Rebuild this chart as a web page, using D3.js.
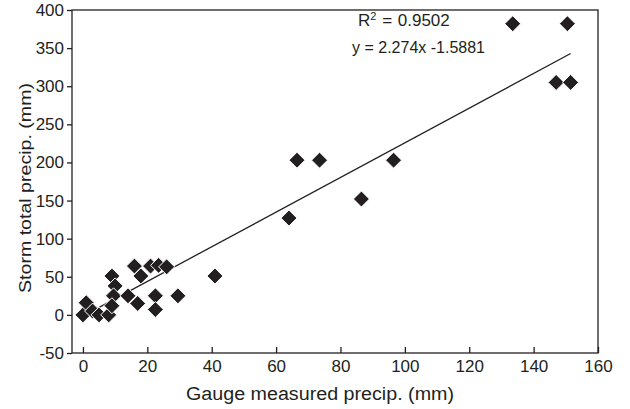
<!DOCTYPE html>
<html>
<head>
<meta charset="utf-8">
<script src="https://cdn.jsdelivr.net/npm/d3@7"></script>
<style>
  body { margin: 0; background: #fff; }
  text { font-family: "Liberation Sans", Arial, sans-serif; fill: #231f20; }
</style>
</head>
<body>
<svg id="chart" width="630" height="409"></svg>
<script>

// gauge measured precip (mm) vs storm total precip (mm)
var gaugePrecip = [0, 1, 3, 5, 8, 9, 10, 9.5, 9, 14, 17, 16, 18, 21, 23.5, 26, 22.5, 22.5, 29.5, 41,
                   64, 66.5, 73.5, 86.5, 96.5, 133.5, 150.5, 147, 151.5];
var stormPrecip = [0, 16, 5, 0, 0, 51, 38, 25, 12, 25, 15, 64, 51, 64, 65, 63, 25, 7, 25, 51,
                   127, 203, 203, 152, 203, 382, 382, 305, 305];
var xTicks = [0, 20, 40, 60, 80, 100, 120, 140, 160];
var yTicks = [-50, 0, 50, 100, 150, 200, 250, 300, 350, 400];
var slope = 2.274;
var intercept = -1.5881;
var rSquared = "0.9502";
var equation = "y = 2.274x -1.5881";

var svg = d3.select("#chart");
var plotLeft = 72, plotRight = 598, plotTop = 10, plotBottom = 353;

var x = d3.scaleLinear().domain([-3.4, 160]).range([plotLeft, plotRight]);
var y = d3.scaleLinear().domain([-50, 400]).range([plotBottom, plotTop]);

// frame
svg.append("rect")
  .attr("x", plotLeft)
  .attr("y", plotTop)
  .attr("width", plotRight - plotLeft)
  .attr("height", plotBottom - plotTop)
  .style("fill", "none")
  .style("stroke", "#231f20")
  .style("stroke-width", 1.3);

// y axis, ticks outward
var yAxis = svg.append("g")
  .attr("transform", `translate(${plotLeft},0)`)
  .call(d3.axisLeft(y).tickValues(yTicks).tickSize(5).tickPadding(3).tickFormat(d => String(d)));
yAxis.select(".domain").remove();
yAxis.selectAll("line").style("stroke", "#231f20").style("stroke-width", 1.3);
yAxis.selectAll("text").style("font-size", "17px").style("font-family", "Liberation Sans, Arial, sans-serif").style("fill", "#231f20");

// x axis, ticks inward
var xAxis = svg.append("g")
  .attr("transform", `translate(0,${plotBottom})`)
  .call(d3.axisBottom(x).tickValues(xTicks).tickSize(0).tickPadding(7).tickFormat(d => String(d)));
xAxis.select(".domain").remove();
xAxis.selectAll(".tick line").attr("y2", -6).style("stroke", "#231f20").style("stroke-width", 1.3);
xAxis.selectAll("text").style("font-size", "17px").style("font-family", "Liberation Sans, Arial, sans-serif").style("fill", "#231f20");

// trend line over the data range
var xMin = d3.min(gaugePrecip), xMax = d3.max(gaugePrecip);
svg.append("line")
  .attr("x1", x(xMin))
  .attr("y1", y(slope * xMin + intercept))
  .attr("x2", x(xMax))
  .attr("y2", y(slope * xMax + intercept))
  .style("stroke", "#231f20")
  .style("stroke-width", 1.3);

// diamonds
var r = 8;
svg.append("g")
  .selectAll("path")
  .data(d3.range(gaugePrecip.length))
  .enter()
  .append("path")
  .attr("d", i => {
    var cx = x(gaugePrecip[i]), cy = y(stormPrecip[i]);
    return `M${cx},${cy - r}L${cx + r},${cy}L${cx},${cy + r}L${cx - r},${cy}Z`;
  })
  .style("fill", "#231f20")
  .style("stroke", "#fff")
  .style("stroke-width", 1);

// regression annotation
var r2 = svg.append("text")
  .attr("x", 358)
  .attr("y", 26)
  .style("font-size", "17px")
  .style("word-spacing", "1px");
r2.append("tspan").text("R");
r2.append("tspan").attr("dy", -6).style("font-size", "11px").text("2");
r2.append("tspan").attr("dy", 6).text(" = " + rSquared);

svg.append("text")
  .attr("x", 352)
  .attr("y", 53)
  .style("font-size", "16px")
  .text(equation);

// axis titles
svg.append("text")
  .attr("x", 320)
  .attr("y", 400)
  .attr("textLength", 268)
  .attr("lengthAdjust", "spacingAndGlyphs")
  .style("font-size", "18px")
  .style("text-anchor", "middle")
  .text("Gauge measured precip. (mm)");

svg.append("text")
  .attr("transform", `translate(31,188) rotate(-90)`)
  .attr("textLength", 210)
  .attr("lengthAdjust", "spacingAndGlyphs")
  .style("font-size", "17px")
  .style("text-anchor", "middle")
  .text("Storm total precip. (mm)");

</script>
</body>
</html>
